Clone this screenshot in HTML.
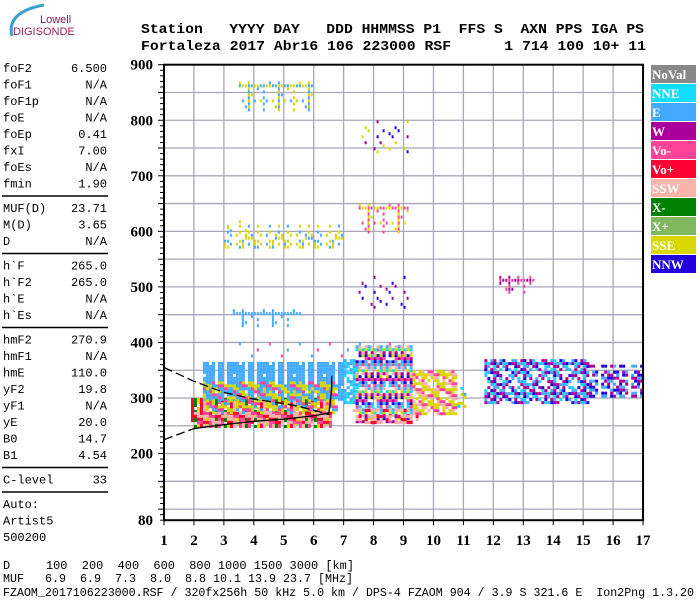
<!DOCTYPE html>
<html><head><meta charset="utf-8"><style>
body{margin:0;background:#fff;width:700px;height:600px;overflow:hidden}
svg{display:block}
.m{font-family:"Liberation Mono",monospace;font-size:12px;fill:#000}
.h{font-family:"Liberation Mono",monospace;font-size:14px;font-weight:bold;fill:#000}
.t{font-family:"Liberation Serif",serif;font-size:15px;font-weight:bold;fill:#000}
.lg{font-family:"Liberation Serif",serif;font-size:13px;font-weight:bold;fill:#fff}
</style></head><body>
<svg id="c" width="700" height="600" xmlns="http://www.w3.org/2000/svg">
<g>
<path d="M12,36 Q6,12 44,5" stroke="#3aa0d0" stroke-width="3" fill="none"/>
<text x="40" y="23" font-family="Liberation Sans,sans-serif" font-size="11" fill="#7a2050">Lowell</text>
<text x="13" y="35" font-family="Liberation Sans,sans-serif" font-size="11" fill="#a02060">DIGISONDE</text>
</g>
<g>
<text class="h" x="141" y="33" textLength="503" lengthAdjust="spacingAndGlyphs" xml:space="preserve">Station   YYYY DAY   DDD HHMMSS P1  FFS S  AXN PPS IGA PS</text>
<text class="h" x="141" y="50" textLength="505" lengthAdjust="spacingAndGlyphs" xml:space="preserve">Fortaleza 2017 Abr16 106 223000 RSF      1 714 100 10+ 11</text>
</g>
<g id="params"></g>
<g id="plot"></g>
<g id="legend"></g>
<g>
<text class="m" x="3" y="569" textLength="351" lengthAdjust="spacingAndGlyphs" xml:space="preserve">D     100  200  400  600  800 1000 1500 3000 [km]</text>
<text class="m" x="3" y="582" textLength="350" lengthAdjust="spacingAndGlyphs" xml:space="preserve">MUF   6.9  6.9  7.3  8.0  8.8 10.1 13.9 23.7 [MHz]</text>
<text class="m" x="3" y="596" textLength="691" lengthAdjust="spacingAndGlyphs" xml:space="preserve">FZAOM_2017106223000.RSF / 320fx256h 50 kHz 5.0 km / DPS-4 FZAOM 904 / 3.9 S 321.6 E  Ion2Png 1.3.20</text>
</g>
</svg>
<script>
const NS="http://www.w3.org/2000/svg";
const paramNames=["foF2","foF1","foF1p","foE","foEp","fxI","foEs","fmin","|","MUF(D)","M(D)","D","|","h`F","h`F2","h`E","h`Es","|","hmF2","hmF1","hmE","yF2","yF1","yE","B0","B1","|","C-level","|","Auto:","Artist5","500200"];
const paramVals=["6.500","N/A","N/A","N/A","0.41","7.00","N/A","1.90","","23.71","3.65","N/A","","265.0","265.0","N/A","N/A","","270.9","N/A","110.0","19.8","N/A","20.0","14.7","4.54","","33","","","",""];
const xTicks=[1,2,3,4,5,6,7,8,9,10,11,12,13,14,15,16,17];
const yTicks=[900,800,700,600,500,400,300,200,80];
const legendNames=["NoVal","NNE","E","W","Vo-","Vo+","SSW","X-","X+","SSE","NNW"];
const legendColors=["#888888","#11ddff","#44aaff","#aa0099","#ff4499","#ff0033","#f8b4a8","#008000","#80b860","#d8d800","#2200dd"];
// clusters: freq start, freq end, height low, height high
const clFreqA=[1.9,2.3,2.3,2.0,7.0,7.4,9.3,10.8,11.7,15.2,3.3,3.0,3.5,7.5,7.5,7.6,12.2,3.0,3.5,7.3];
const clFreqB=[6.6,7.0,6.8,6.6,7.5,9.3,10.8,11.1,15.2,17.0,5.6,7.0,6.0,9.2,9.2,9.2,13.4,4.0,9.0,9.5];
const clHLo=[248,300,275,255,290,255,270,285,290,300,430,570,820,460,600,740,490,600,370,255];
const clHHi=[300,365,330,275,370,395,350,320,370,360,460,612,870,520,650,800,520,620,400,280];
const clColors=[["#ff0033","#ff4499","#d8d800","#008000","#f8b4a8"],["#44aaff","#44aaff","#44aaff","#44aaff","#ffffff"],["#d8d800","#d8d800","#ff4499","#44aaff"],["#f8b4a8","#ff0033","#ff4499","#f8b4a8"],["#44aaff","#11ddff"],["#44aaff","#d8d800","#ff4499","#f8b4a8","#2200dd","#11ddff","#aa0099"],["#d8d800","#ff4499","#f8b4a8","#d8d800"],["#11ddff","#d8d800","#44aaff"],["#aa0099","#44aaff","#11ddff","#2200dd","#aa0099","#44aaff"],["#aa0099","#44aaff","#2200dd"],["#44aaff"],["#d8d800","#44aaff","#d8d800"],["#d8d800","#44aaff"],["#2200dd","#aa0099"],["#d8d800","#ff4499"],["#2200dd","#d8d800","#aa0099"],["#aa0099","#ff4499"],["#44aaff","#d8d800"],["#44aaff","#ff4499"],["#f8b4a8","#f8b4a8","#ff0033"]];
const clFill=[8,9,6,7,6,7,7,4,6,6,2,3,2,1,2,1,3,1,1,6];
const traceUpperF=[1.0,2.0,3.0,4.0,5.0,5.5,6.0,6.4,6.5];
const traceUpperH=[355,330,310,298,290,285,278,272,270];
const traceTopF=[6.5,6.55,6.6,6.6];
const traceTopH=[270,290,315,340];
const traceLowDashF=[1.0,2.0];
const traceLowDashH=[225,245];
const traceLowF=[2.0,3.0,4.0,5.0,6.0,6.5];
const traceLowH=[245,252,258,262,268,273];

const X=f=>164+(f-1)*29.94, Y=h=>398-(h-300)*0.5555;
function el(t,a,p){const e=document.createElementNS(NS,t);for(const k in a)e.setAttribute(k,a[k]);p.appendChild(e);return e;}

const P=document.getElementById('params');
let yy=72;
paramNames.forEach((n,i)=>{
 if(n==="|"){const l=el('line',{x1:2,x2:108,y1:yy-8,y2:yy-8,stroke:'#000','stroke-width':1.5},P);
 
 
 yy+=8;return;}
 const t=el('text',{class:'m',x:3,y:yy},P);t.textContent=n;
 
 
 if(paramVals[i]){const v=el('text',{class:'m',x:107,y:yy,'text-anchor':'end'},P);v.textContent=paramVals[i];
 
 }
 yy+=16.5;
});

const G=document.getElementById('plot');
for(let f=2;f<=16;f++){const l=el('line',{x1:X(f),x2:X(f),y1:Y(900),y2:Y(80),stroke:'#a8a8b8','stroke-width':1.3},G);
 
 }
for(let h=100;h<=850;h+=50){const l=el('line',{x1:X(1),x2:X(17),y1:Y(h),y2:Y(h),stroke:'#a8a8b8','stroke-width':1.3},G);
 
 }
clFreqA.forEach((fa,k)=>{
 const x0=X(fa),x1=X(clFreqB[k]),y0=Y(clHHi[k]),y1=Y(clHLo[k]);const cols=clColors[k];
 const g=el('g',{},G);
 
 
 let i=0;
 for(let x=x0;x<x1;x+=3){let j=0;for(let y=y0;y<y1;y+=3){
  if(((i*37+j*71+i*j*13+k*5)%10)<clFill[k]){const c=cols[(i*3+j*5+(i>>1))%cols.length];
   if(c!=="#ffffff")el('rect',{x:x,y:y,width:clFill[k]<4?2:3,height:3,fill:c},g);}
  j++;}i++;}
});
function poly(fs,hs,dash,name){const p=el('polyline',{points:fs.map((f,i)=>X(f)+','+Y(hs[i])).join(' '),fill:'none',stroke:'#000','stroke-width':1.3,'stroke-dasharray':dash},G);
 
 }
poly(traceUpperF,traceUpperH,'9,4','trace-upper');
poly(traceTopF,traceTopH,'','trace-cusp');
poly(traceLowDashF,traceLowDashH,'9,4','trace-lower-extrapolated');
poly(traceLowF,traceLowH,'','trace-lower');
const fr=el('rect',{x:X(1),y:Y(900),width:X(17)-X(1),height:Y(80)-Y(900),fill:'none',stroke:'#000','stroke-width':2},G);


for(let h=80;h<=900;h+=10){const l=el('line',{x1:X(1)-(h%50===0?6:4),x2:X(1),y1:Y(h),y2:Y(h),stroke:'#000'},G);
 
 }
yTicks.forEach(h=>{const t=el('text',{class:'t',x:153,y:Y(h)+5,'text-anchor':'end'},G);t.textContent=h;
 
 });
xTicks.forEach(f=>{const l=el('line',{x1:X(f),x2:X(f),y1:Y(80),y2:Y(80)+5,stroke:'#000'},G);
 
 
 const t=el('text',{class:'t',x:X(f),y:545,'text-anchor':'middle'},G);t.textContent=f;
 
 });

const L=document.getElementById('legend');
legendNames.forEach((n,i)=>{const y=65+i*19;
 const r=el('rect',{x:651,y:y,width:45,height:18,fill:legendColors[i]},L);
 
 
 const t=el('text',{class:'lg',x:652,y:y+14},L);t.textContent=n;
 
 });
</script>
</body></html>
